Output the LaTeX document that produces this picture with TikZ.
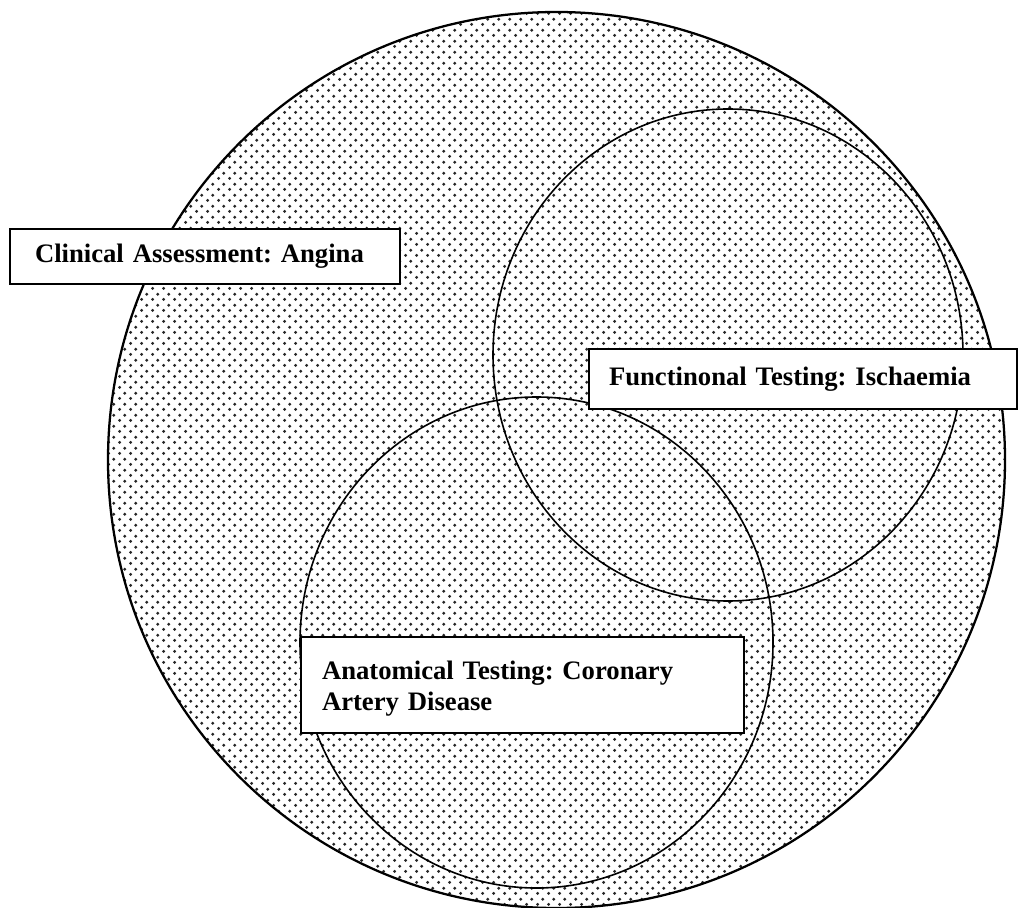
\documentclass[tikz,border=0pt]{standalone}
\usepackage{fontspec}
\setmainfont{Liberation Serif}
\usetikzlibrary{patterns}
\frenchspacing

% dotted fill of the outer circle
\pgfdeclarepatternformonly{stipple}{\pgfpoint{0pt}{0pt}}{\pgfpoint{8pt}{8pt}}{\pgfpoint{8pt}{8pt}}{
  \pgfpathcircle{\pgfpoint{2pt}{2pt}}{1.25pt}
  \pgfpathcircle{\pgfpoint{6pt}{6pt}}{1.25pt}
  \pgfusepath{fill}
}

\tikzset{
  labelbox/.style={draw, line width=1.2pt, fill=white, align=left, inner ysep=0pt,
    font=\fontsize{20}{23}\selectfont\bfseries},
  ring/.style={line width=1.2pt}
}

\begin{document}
\begin{tikzpicture}[x=0.75pt,y=0.75pt]
    \useasboundingbox (0,0) rectangle (1019,907);

    % outer circle
    \fill[pattern=stipple, pattern color=black!85] (556.5,447) ellipse [x radius=448.5, y radius=448];
    \draw[line width=1.7pt] (556.5,447) ellipse [x radius=448.5, y radius=448];

    % inner circles
    \draw[ring] (728,552) ellipse [x radius=235, y radius=246];
    \draw[ring] (536.5,264.5) ellipse [x radius=236.5, y radius=245.5];

    % labels
    \node[labelbox, minimum width=292.5pt, minimum height=41.25pt, inner xsep=18.75pt, text width=255pt]
        (clinical) at (205,650.5) {Clinical Assessment: Angina};
    \node[labelbox, minimum width=321pt, minimum height=45pt, inner xsep=15pt, text width=291pt]
        (functional) at (803,528) {Functinonal Testing: Ischaemia};
    \node[labelbox, minimum width=332.25pt, minimum height=72pt, inner xsep=15.75pt, text width=300.75pt]
        (anatomical) at (522.5,222) {\rule{0pt}{19pt}Anatomical Testing: Coronary Artery Disease};
\end{tikzpicture}
\end{document}
